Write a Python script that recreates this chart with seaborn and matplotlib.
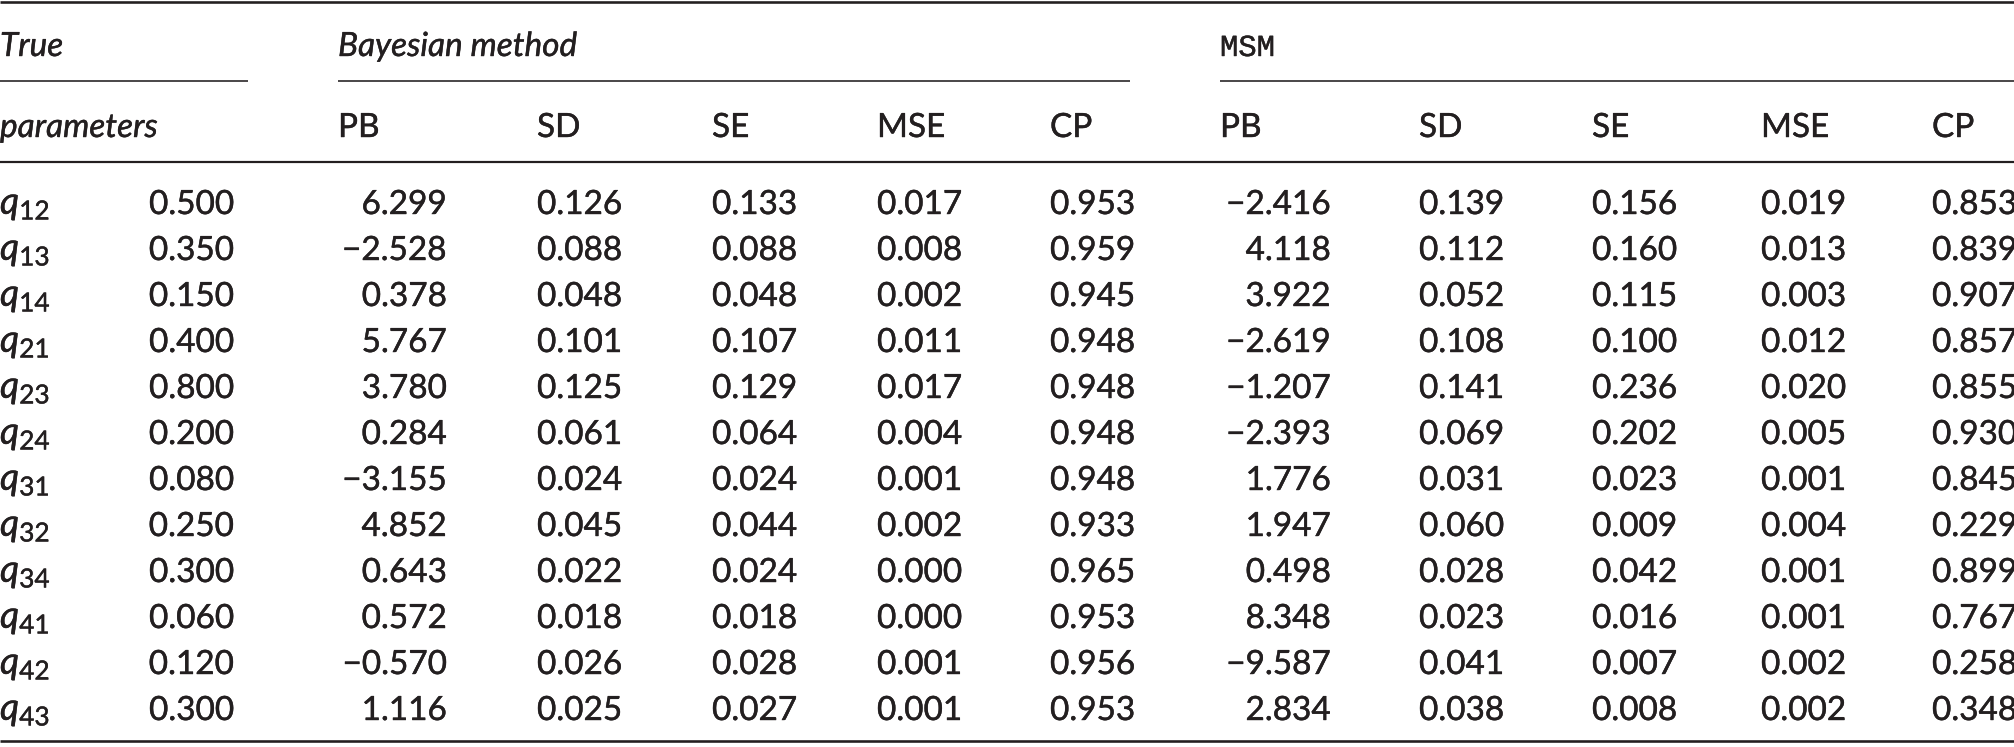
import matplotlib
matplotlib.use("Agg")
import matplotlib.pyplot as plt
import matplotlib.patheffects as pe
import seaborn as sns
import pandas as pd

# ---------------- data ----------------
param_subs = ["12", "13", "14", "21", "23", "24", "31", "32", "34", "41", "42", "43"]
true_vals = [0.500, 0.350, 0.150, 0.400, 0.800, 0.200, 0.080, 0.250, 0.300, 0.060, 0.120, 0.300]

bayes_pb = [6.299, -2.528, 0.378, 5.767, 3.780, 0.284, -3.155, 4.852, 0.643, 0.572, -0.570, 1.116]
bayes_sd = [0.126, 0.088, 0.048, 0.101, 0.125, 0.061, 0.024, 0.045, 0.022, 0.018, 0.026, 0.025]
bayes_se = [0.133, 0.088, 0.048, 0.107, 0.129, 0.064, 0.024, 0.044, 0.024, 0.018, 0.028, 0.027]
bayes_mse = [0.017, 0.008, 0.002, 0.011, 0.017, 0.004, 0.001, 0.002, 0.000, 0.000, 0.001, 0.001]
bayes_cp = [0.953, 0.959, 0.945, 0.948, 0.948, 0.948, 0.948, 0.933, 0.965, 0.953, 0.956, 0.953]

msm_pb = [-2.416, 4.118, 3.922, -2.619, -1.207, -2.393, 1.776, 1.947, 0.498, 8.348, -9.587, 2.834]
msm_sd = [0.139, 0.112, 0.052, 0.108, 0.141, 0.069, 0.031, 0.060, 0.028, 0.023, 0.041, 0.038]
msm_se = [0.156, 0.160, 0.115, 0.100, 0.236, 0.202, 0.023, 0.009, 0.042, 0.016, 0.007, 0.008]
msm_mse = [0.019, 0.013, 0.003, 0.012, 0.020, 0.005, 0.001, 0.004, 0.001, 0.001, 0.002, 0.002]
msm_cp = [0.853, 0.839, 0.907, 0.857, 0.855, 0.930, 0.845, 0.229, 0.899, 0.767, 0.258, 0.348]

stat_labels = ["PB", "SD", "SE", "MSE", "CP"]

df = pd.DataFrame({
    "sub": param_subs, "true": true_vals,
    "b_pb": bayes_pb, "b_sd": bayes_sd, "b_se": bayes_se, "b_mse": bayes_mse, "b_cp": bayes_cp,
    "m_pb": msm_pb, "m_sd": msm_sd, "m_se": msm_se, "m_mse": msm_mse, "m_cp": msm_cp,
})

# ---------------- style ----------------
sns.set_theme(style="white")
plt.rcParams["font.family"] = ["Lato", "DejaVu Sans"]
plt.rcParams["mathtext.fontset"] = "custom"
plt.rcParams["mathtext.it"] = "Lato:italic"
plt.rcParams["mathtext.rm"] = "Lato"

INK = "#231f20"
FS = 24
BOLDEN = [pe.withStroke(linewidth=0.3, foreground=INK)]

W, H = 2014, 747
fig = plt.figure(figsize=(W / 100, H / 100), dpi=100)
ax = fig.add_axes([0, 0, 1, 1])
ax.set_xlim(0, W)
ax.set_ylim(H, 0)
ax.axis("off")


def fmt(v):
    s = f"{abs(v):.3f}"
    return ("\u2212" + s) if v < 0 else s


def txt(x, y, s, ha="left", **kw):
    kw.setdefault("fontsize", FS)
    ax.text(x, y, s, color=INK, va="baseline", ha=ha, path_effects=BOLDEN, **kw)


def hline(y, x0, x1, lw):
    ax.plot([x0, x1], [y, y], color=INK, lw=lw * 0.72, solid_capstyle="butt")


# rules
hline(2, 0, W, 2.6)
hline(81, 0, 248, 1.6)
hline(81, 338, 1130, 1.6)
hline(81, 1220, W, 1.6)
hline(162, 0, W, 2.2)
hline(741, 0, W, 2.6)

# header row 1
y_h1 = 56
txt(0, y_h1, "True", style="italic")
txt(338, y_h1, "Bayesian method", style="italic")
txt(1220, y_h1, "MSM", fontsize=FS - 2, family=["Liberation Mono", "DejaVu Sans Mono"])

# header row 2
y_h2 = 137
txt(0, y_h2, "parameters", style="italic")
bayes_x = [338, 537, 712, 877, 1050]
msm_x = [1220, 1419, 1592, 1761, 1932]
for lab, x in zip(stat_labels, bayes_x):
    txt(x, y_h2, lab)
for lab, x in zip(stat_labels, msm_x):
    txt(x, y_h2, lab)

# body
y0, dy = 214, 46.0
b_cols = ["b_pb", "b_sd", "b_se", "b_mse", "b_cp"]
m_cols = ["m_pb", "m_sd", "m_se", "m_mse", "m_cp"]
for i, row in df.iterrows():
    y = y0 + i * dy
    txt(0, y, rf"$q_{{\mathrm{{{row['sub']}}}}}$", fontsize=FS + 3)
    txt(234, y, fmt(row["true"]), ha="right")
    # Bayesian
    txt(447, y, fmt(row["b_pb"]), ha="right")
    for c, x in zip(b_cols[1:], bayes_x[1:]):
        txt(x, y, fmt(row[c]))
    # MSM
    txt(1331, y, fmt(row["m_pb"]), ha="right")
    for c, x in zip(m_cols[1:], msm_x[1:]):
        txt(x, y, fmt(row[c]))

fig.savefig("out.png", dpi=100, facecolor="white")
